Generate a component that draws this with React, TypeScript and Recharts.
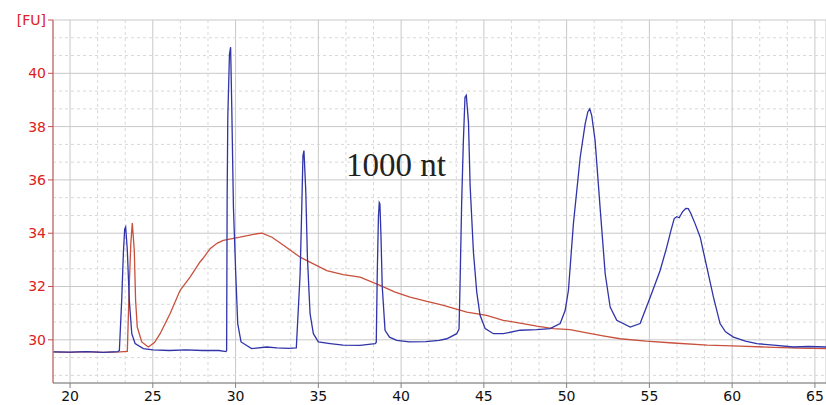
import { LineChart, Line, XAxis, YAxis, CartesianGrid, ReferenceLine } from 'recharts'

// ladder trace (blue)
const ladderTime = [
  19.0, 20.0, 21.0, 22.0, 22.9, 22.98, 23.12, 23.22, 23.3, 23.36, 23.46, 23.58, 23.73, 23.93, 24.43,
  25.0, 26.0, 27.0, 28.0, 29.0, 29.42, 29.46, 29.49, 29.53, 29.63, 29.7, 29.77, 29.87, 30.01, 30.13,
  30.33, 30.97, 31.88, 32.5, 33.2, 33.67, 33.9, 34.0, 34.07, 34.13, 34.24, 34.34, 34.5, 34.7, 35.0,
  35.71, 36.5, 37.52, 38.43, 38.5, 38.56, 38.63, 38.68, 38.72, 38.78, 38.86, 39.03, 39.3, 39.74, 40.5,
  41.5, 42.3, 42.76, 43.36, 43.5, 43.56, 43.66, 43.76, 43.86, 43.94, 44.07, 44.17, 44.37, 44.57, 44.77,
  45.08, 45.58, 46.17, 47.19, 48.2, 49.0, 49.61, 49.91, 50.11, 50.41, 50.82, 51.12, 51.28, 51.4, 51.52,
  51.72, 52.02, 52.33, 52.63, 53.03, 53.84, 54.44, 55.05, 55.65, 56.05, 56.3, 56.5, 56.65, 56.8, 57.0,
  57.2, 57.35, 57.5, 57.76, 58.07, 58.47, 58.87, 59.27, 59.6, 60.08, 60.8, 61.49, 62.5, 63.7, 64.6,
  65.68,
]
const ladderFU = [
  29.55, 29.54, 29.56, 29.53, 29.56, 29.6, 31.48, 33.23, 34.15, 34.23, 33.36, 31.48, 30.23, 29.86, 29.67,
  29.62, 29.6, 29.62, 29.6, 29.6, 29.56, 29.6, 35.23, 38.35, 40.7, 40.98, 38.73, 34.98, 32.48, 30.61,
  29.92, 29.67, 29.73, 29.7, 29.68, 29.7, 32.48, 34.98, 36.9, 37.1, 35.6, 33.1, 30.98, 30.23, 29.92,
  29.86, 29.8, 29.79, 29.86, 29.9, 32.5, 34.6, 35.15, 35.1, 34.0, 32.0, 30.36, 30.1, 29.98, 29.92,
  29.93, 29.98, 30.04, 30.23, 30.4, 32.04, 35.17, 37.42, 39.1, 39.17, 38.17, 35.79, 33.29, 31.79, 30.92,
  30.42, 30.23, 30.23, 30.36, 30.38, 30.42, 30.61, 31.1, 31.86, 34.36, 36.85, 38.1, 38.55, 38.67, 38.4,
  37.48, 34.98, 32.48, 31.23, 30.73, 30.48, 30.61, 31.6, 32.6, 33.48, 34.1, 34.55, 34.62, 34.58, 34.8,
  34.93, 34.92, 34.75, 34.36, 33.85, 32.73, 31.6, 30.61, 30.3, 30.1, 29.95, 29.86, 29.8, 29.73, 29.75,
  29.73,
]

// sample trace (red)
const sampleTime = [
  19.0, 20.0, 21.0, 22.0, 23.0, 23.46, 23.58, 23.67, 23.76, 23.88, 23.96, 24.06, 24.33, 24.73,
  25.1, 25.44, 26.04, 26.65, 27.25, 27.85, 28.04, 28.46, 28.9, 29.26, 29.8, 30.27, 31.28, 31.6,
  32.2, 33.0, 33.9, 34.7, 35.51, 36.5, 37.52, 38.73, 39.6, 40.54, 41.5, 42.56, 43.97, 45.17,
  46.17, 47.19, 48.2, 49.2, 50.21, 51.22, 52.2, 53.23, 54.8, 56.45, 58.5, 60.48, 62.5, 64.0, 65.68,
]
const sampleFU = [
  29.55, 29.53, 29.56, 29.53, 29.55, 29.57, 32.1, 33.6, 34.38, 33.36, 31.48, 30.48, 29.92, 29.73,
  29.9, 30.23, 30.98, 31.86, 32.35, 32.92, 33.06, 33.42, 33.63, 33.73, 33.8, 33.85, 33.98, 34.0,
  33.85, 33.5, 33.1, 32.85, 32.6, 32.45, 32.35, 32.04, 31.8, 31.6, 31.45, 31.29, 31.04, 30.92,
  30.73, 30.63, 30.51, 30.42, 30.38, 30.26, 30.15, 30.04, 29.95, 29.88, 29.8, 29.76, 29.72, 29.69, 29.67,
]

const xTicks = [20, 25, 30, 35, 40, 45, 50, 55, 60, 65]
const yTicks = [30, 32, 34, 36, 38, 40, 42]

const ladder = ladderTime.map((x, i) => ({ x, y: ladderFU[i] }))
const sample = sampleTime.map((x, i) => ({ x, y: sampleFU[i] }))

// two dashed lines between each pair of solid grid lines
const xMinor = xTicks.flatMap((t) => [t + 5 / 3, t + 10 / 3]).filter((v) => v < 65.6)
const yMinor = yTicks.flatMap((t) => [t - 2 / 3, t - 4 / 3]).filter((v) => v > 28.4)

export default function App() {
  return (
    <div style={{ position: 'absolute', left: 0, top: 0, width: 826, height: 405, background: '#fff' }}>
      <LineChart
        width={826}
        height={405}
        margin={{ top: 20, right: 0, bottom: 0, left: 0 }}
      >
        <CartesianGrid stroke="#c8c8c8" strokeWidth={1} />
        {xMinor.map((v) => (
          <ReferenceLine key={'x' + v} x={v} stroke="#d8d8d8" strokeDasharray="3 3" />
        ))}
        {yMinor.map((v) => (
          <ReferenceLine key={'y' + v} y={v} stroke="#d8d8d8" strokeDasharray="3 3" />
        ))}
        <XAxis
          type="number"
          dataKey="x"
          domain={[18.97, 65.67]}
          ticks={xTicks}
          allowDataOverflow
          height={22}
          stroke="#808080"
          tickSize={5}
          tickMargin={3}
          tick={{ fontSize: 14, fill: '#111', fontFamily: 'DejaVu Sans' }}
        />
        <YAxis
          type="number"
          domain={[28.38, 42]}
          ticks={yTicks}
          allowDataOverflow
          width={53}
          stroke="#c0504d"
          tickSize={5}
          tickMargin={2}
          tick={{ fontSize: 14, fill: '#e0201a', fontFamily: 'DejaVu Sans' }}
          tickFormatter={(v: number) => (v === 42 ? '[FU]' : String(v))}
        />
        <Line
          data={sample}
          dataKey="y"
          type="linear"
          stroke="#c8503c"
          strokeWidth={1.3}
          dot={false}
          isAnimationActive={false}
        />
        <Line
          data={ladder}
          dataKey="y"
          type="linear"
          stroke="#3034a8"
          strokeWidth={1.3}
          dot={false}
          isAnimationActive={false}
        />
      </LineChart>
      <div
        style={{
          position: 'absolute',
          left: 346,
          top: 149,
          fontFamily: '"Liberation Serif", serif',
          fontSize: 33,
          lineHeight: 1,
          color: '#222',
          whiteSpace: 'nowrap',
        }}
      >
        1000 nt
      </div>
    </div>
  )
}
